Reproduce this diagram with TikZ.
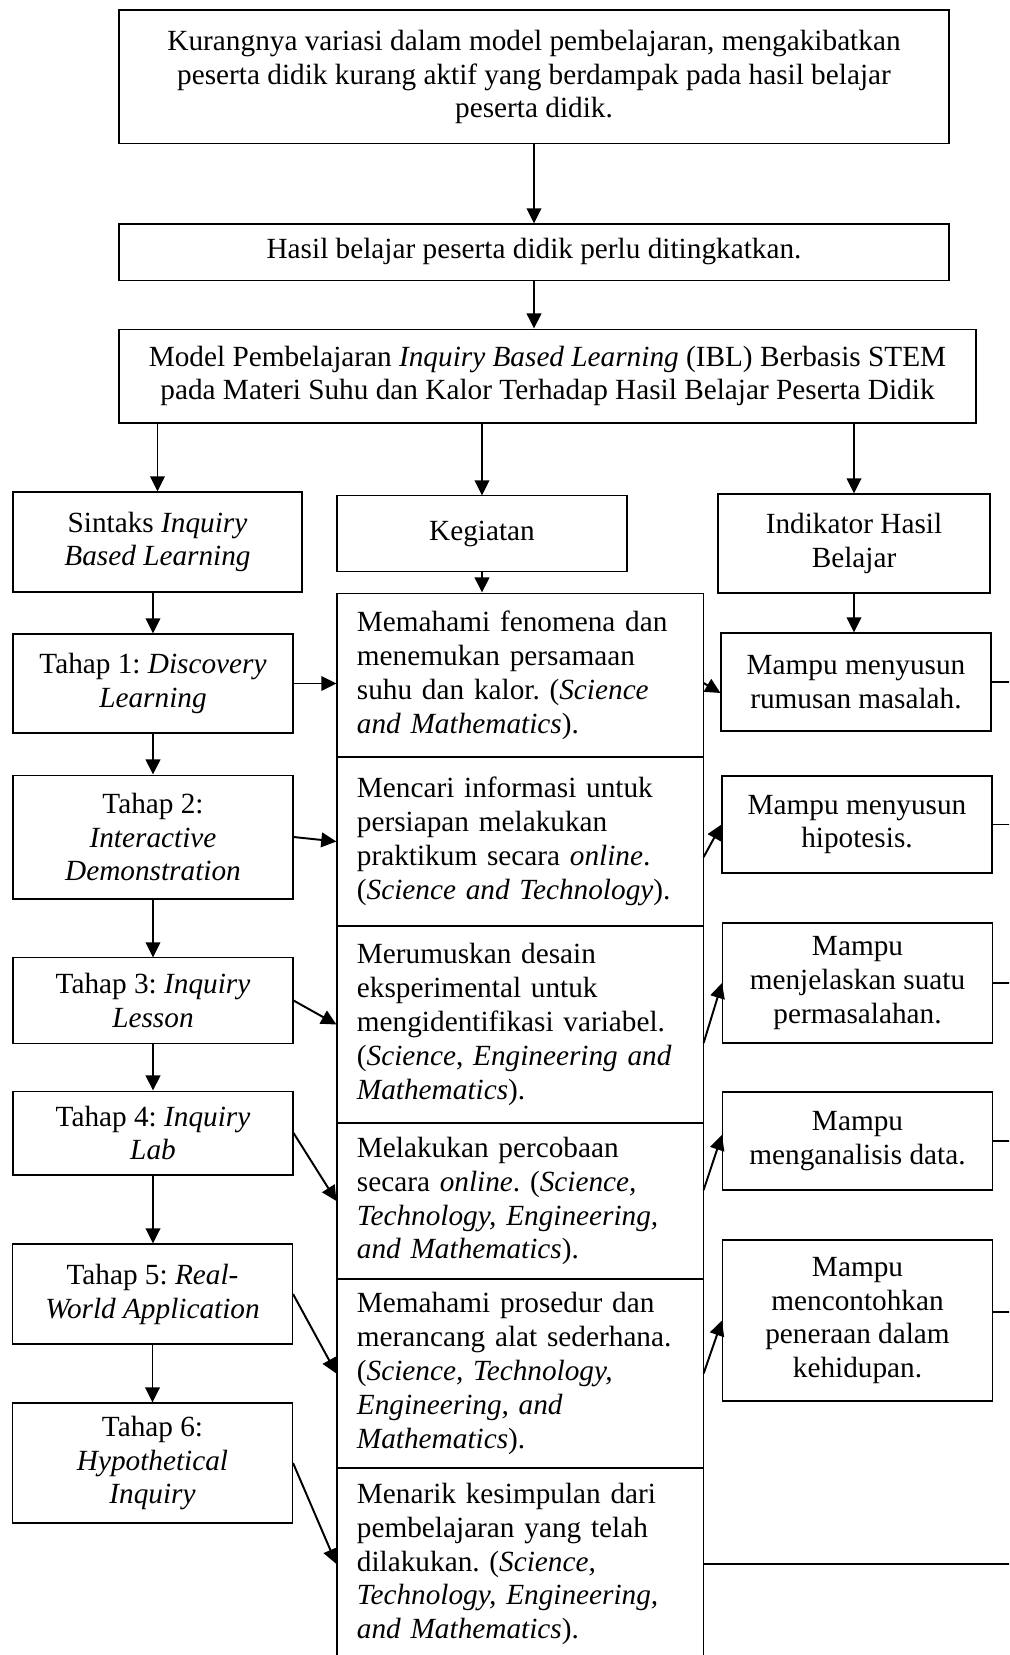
\documentclass[tikz,border=0pt]{standalone}
\usepackage{fontspec}
\setmainfont{Liberation Serif}
\frenchspacing
\usetikzlibrary{arrows.meta}
\tikzset{
    box/.style={draw, line width=0.45pt, align=center, inner sep=2pt,
        font=\fontsize{12pt}{13.9pt}\selectfont},
    actbox/.style={box, align=left, text width=133.7pt, inner xsep=8.2pt, inner ysep=0pt,
        minimum width=150.1pt},
    stagebox/.style={box, minimum width=114.8pt},
    goalbox/.style={box, minimum width=110.7pt},
    link/.style={-{Triangle[length=6.2pt,width=6pt]}, line width=0.8pt},
    rimline/.style={line width=0.7pt}
}

\begin{document}
\begin{tikzpicture}[x=0.41pt, y=-0.41pt]
            \clip (0,0) rectangle (1009,1655);
            \coordinate (rim) at (1040,0);
            \node[box, minimum width=340.3pt, minimum height=54.9pt] (masalah) at (534,77)
                {Kurangnya variasi dalam model pembelajaran, mengakibatkan\\
                 peserta didik kurang aktif yang berdampak pada hasil belajar\\
                 peserta didik.};
            \node[box, minimum width=340.3pt, minimum height=23pt] (hasil) at (534,252)
                {Hasil belajar peserta didik perlu ditingkatkan.};
            \node[box, minimum width=351.4pt, minimum height=38.5pt] (model) at (547.5,376)
                {Model Pembelajaran \textit{Inquiry Based Learning} (IBL) Berbasis STEM\\
                 pada Materi Suhu dan Kalor Terhadap Hasil Belajar Peserta Didik};
            \node[box, minimum width=118.5pt, minimum height=41pt] (sintaks) at (157.5,542)
                {Sintaks \textit{Inquiry}\\ \textit{Based Learning}};
            \node[box, minimum width=118.9pt, minimum height=30.8pt] (kegiatan) at (482,533.5)
                {Kegiatan};
            \node[box, minimum width=111.5pt, minimum height=40.6pt] (indikator) at (854,543.5)
                {Indikator Hasil\\Belajar};

            \node[stagebox, minimum height=40.6pt] (t1) at (153,683.5)
                {Tahap 1: \textit{Discovery}\\ \textit{Learning}};
            \node[stagebox, minimum height=50.8pt] (t2) at (153,837)
                {Tahap 2:\\ \textit{Interactive}\\ \textit{Demonstration}};
            \node[stagebox, minimum height=34.9pt] (t3) at (153,1000.5)
                {Tahap 3: \textit{Inquiry}\\ \textit{Lesson}};
            \node[stagebox, minimum height=34.4pt] (t4) at (153,1133)
                {Tahap 4: \textit{Inquiry}\\ \textit{Lab}};
            \node[stagebox, minimum height=41pt] (t5) at (152.5,1294)
                {Tahap 5: \textit{Real-}\\ \textit{World Application}};
            \node[stagebox, minimum height=49.2pt] (t6) at (152.5,1463)
                {Tahap 6:\\ \textit{Hypothetical}\\ \textit{Inquiry}};

            \node[actbox, minimum height=67.2pt] (k1) at (520,675)
                {Memahami fenomena dan\\ menemukan persamaan\\
                 suhu dan kalor. (\textit{Science}\\ \textit{and Mathematics}).};
            \node[actbox, minimum height=69.3pt] (k2) at (520,841.5)
                {Mencari informasi untuk\\ persiapan melakukan\\
                 praktikum secara \textit{online}.\\ (\textit{Science and Technology}).};
            \node[actbox, minimum height=80.8pt] (k3) at (520,1024.5)
                {Merumuskan desain\\ eksperimental untuk\\ mengidentifikasi variabel.\\
                 (\textit{Science}, \textit{Engineering and}\\ \textit{Mathematics}).};
            \node[actbox, minimum height=64pt] (k4) at (520,1201)
                {Melakukan percobaan\\ secara \textit{online}. (\textit{Science,}\\
                 \textit{Technology, Engineering,}\\ \textit{and Mathematics}).};
            \node[actbox, minimum height=77.5pt] (k5) at (520,1373.5)
                {Memahami prosedur dan\\ merancang alat sederhana.\\
                 (\textit{Science, Technology,}\\ \textit{Engineering, and}\\ \textit{Mathematics}).};
            \node[actbox, minimum height=78.7pt] (k6) at (520,1564)
                {Menarik kesimpulan dari\\ pembelajaran yang telah\\
                 dilakukan. (\textit{Science,}\\ \textit{Technology, Engineering,}\\
                 \textit{and Mathematics}).};

            \node[goalbox, minimum height=40.2pt] (i1) at (856,682)
                {Mampu menyusun\\rumusan masalah.};
            \node[goalbox, minimum height=39.8pt] (i2) at (857,824.5)
                {Mampu menyusun\\hipotesis.};
            \node[goalbox, minimum height=49.2pt] (i3) at (857.5,983)
                {Mampu\\menjelaskan suatu\\permasalahan.};
            \node[goalbox, minimum height=40.2pt] (i4) at (857.5,1141)
                {Mampu\\menganalisis data.};
            \node[goalbox, minimum height=66pt] (i5) at (857.5,1320.5)
                {Mampu\\mencontohkan\\peneraan dalam\\kehidupan.};

            \draw[link] (masalah) -- (hasil);
            \draw[link] (hasil.south) -- (hasil.south |- model.north);
            \draw[link] (model.south -| sintaks.north) -- (sintaks.north);
            \draw[link] (model.south -| kegiatan.north) -- (kegiatan.north);
            \draw[link] (model.south -| indikator.north) -- (indikator.north);
            \draw[link] (sintaks.south -| t1.north) -- (t1.north);
            \draw[link] (kegiatan.south) -- (kegiatan.south |- k1.north);
            \draw[link] (indikator.south) -- (indikator.south |- i1.north);
            \draw[link] (t1.south) -- (t2.north);
            \draw[link] (t2.south) -- (t3.north);
            \draw[link] (t3.south) -- (t4.north);
            \draw[link] (t4.south) -- (t4.south |- t5.north);
            \draw[link] (t5.south) -- (t6.north);

            \draw[link] (t1.east) -- (t1.east -| k1.west);
            \draw[link] (t2.east) -- (k2.west);
            \draw[link] (t3.east) -- (k3.west);
            \draw[link] (t4.east) -- (k4.west);
            \draw[link] (t5.east) -- (k5.west);
            \draw[link] (t6.east) -- (k6.west);

            \draw[link] ([yshift=-3.3pt]k1.east) -- ([yshift=-4.5pt]i1.west);
            \draw[link] ([yshift=-6.4pt]k2.east) -- (i2.west);
            \draw[link] ([yshift=-7.6pt]k3.east) -- (i3.west);
            \draw[link] ([yshift=4.5pt]k4.east) -- ([yshift=2.5pt]i4.west);
            \draw[link] (k5.east) -- (i5.west);

            \draw[rimline] (i1.east) -- (i1.east -| rim);
            \draw[rimline] (i2.east) -- (i2.east -| rim);
            \draw[rimline] (i3.east) -- (i3.east -| rim);
            \draw[rimline] (i4.east) -- (i4.east -| rim);
            \draw[rimline] ([yshift=3.5pt]i5.east) -- ([yshift=3.5pt]i5.east -| rim);
            \draw[rimline] (k6.east) -- (k6.east -| rim);
        \end{tikzpicture}
\end{document}
